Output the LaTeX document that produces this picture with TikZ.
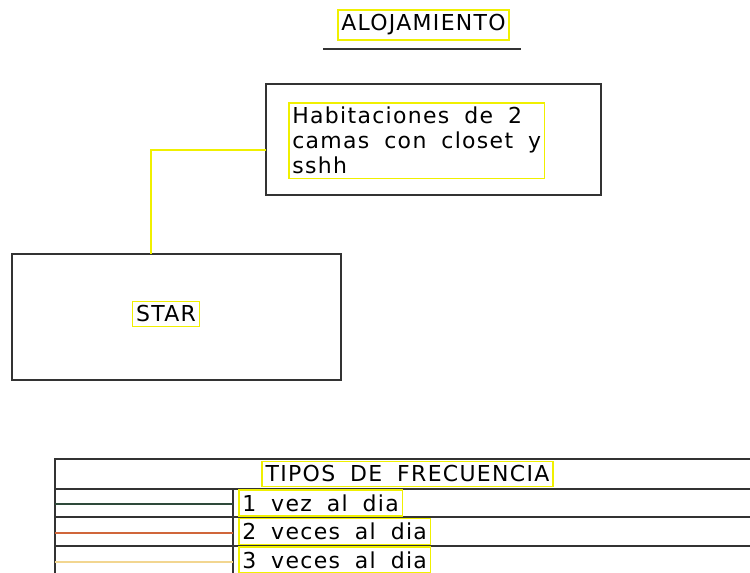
\documentclass[tikz,border=0pt]{standalone}
\usepackage{fontspec}
\setmainfont{DejaVu Sans}[LetterSpace=6,WordSpace=1.8]
\usepackage{tikz}
\definecolor{cadyellow}{HTML}{F0F000}
\definecolor{cadgreen}{HTML}{2E4A3A}
\definecolor{cadorange}{HTML}{D0663A}
\definecolor{cadsand}{HTML}{F2D690}
\definecolor{cadgray}{HTML}{333333}

\begin{document}
\begin{tikzpicture}[x=0.02cm,y=-0.02cm,font=\fontsize{12.5}{14.2}\selectfont,
  tag/.style={draw=cadyellow,line width=0.9pt,inner xsep=2pt,inner ysep=2.5pt},
  frame/.style={draw=cadgray,line width=0.9pt}]
  \useasboundingbox (0,0) rectangle (750,573);
  \clip (0,0) rectangle (750,573);
  % titulo
  \node[tag] (titulo) at (423.5,25) {ALOJAMIENTO};
  \draw[cadgray,line width=0.8pt] (323,49) -- (521,49);
  % cajas
  \draw[frame] (266,84) rectangle (601,195);
  \node[tag,anchor=north west,align=left] (hab) at (288,102) {Habitaciones de 2\\camas con closet y\\sshh};
  \draw[frame] (12,254) rectangle (341,380);
  \node[tag] (star) at (166,314) {STAR};
  \coordinate (k1) at (266,150);
  \coordinate (k2) at (151,254);
  \draw[cadyellow,line width=0.6pt] (k1) -| (k2);
  % tabla de frecuencias
  \draw[frame] (55,573) -- (55,459) -- (760,459);
  \draw[frame] (55,489) -- (760,489);
  \draw[frame] (55,517) -- (760,517);
  \draw[frame] (55,546) -- (760,546);
  \draw[frame] (233,489) -- (233,580);
  \node[tag] (tipos) at (407.5,474) {TIPOS DE FRECUENCIA};
  \draw[cadgreen,line width=0.7pt] (55,504) -- (233,504);
  \draw[cadorange,line width=0.7pt] (55,533) -- (233,533);
  \draw[cadsand,line width=0.9pt] (55,562) -- (233,562);
  \node[tag,anchor=west] (f1) at (238,503) {1 vez al dia};
  \node[tag,anchor=west] (f2) at (238,531.5) {2 veces al dia};
  \node[tag,anchor=west] (f3) at (238,560) {3 veces al dia};
\end{tikzpicture}
\end{document}
